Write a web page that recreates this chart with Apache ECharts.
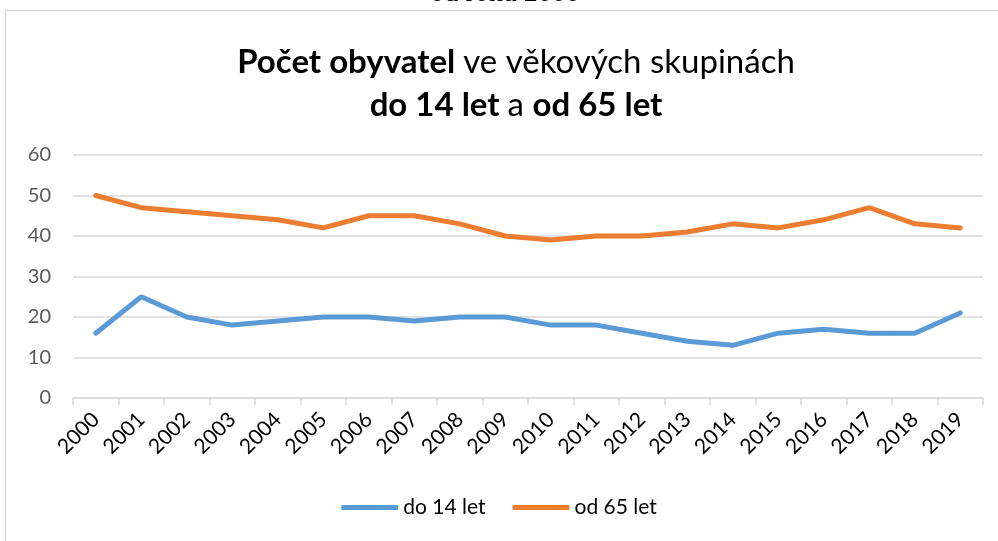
<!DOCTYPE html>
<html>
<head>
<meta charset="utf-8">
<script src="https://cdn.jsdelivr.net/npm/echarts@6/dist/echarts.min.js"></script>
<style>
  html, body { margin: 0; padding: 0; background: #fff; }
  #chart { width: 998px; height: 541px; }
</style>
</head>
<body>
<div id="chart"></div>
<script>
var years = ['2000', '2001', '2002', '2003', '2004', '2005', '2006', '2007', '2008', '2009',
    '2010', '2011', '2012', '2013', '2014', '2015', '2016', '2017', '2018', '2019'];
var do14 = [16, 25, 20, 18, 19, 20, 20, 19, 20, 20, 18, 18, 16, 14, 13, 16, 17, 16, 16, 21];
var od65 = [50, 47, 46, 45, 44, 42, 45, 45, 43, 40, 39, 40, 40, 41, 43, 42, 44, 47, 43, 42];
var seriesNames = ['do 14 let', 'od 65 let'];

var font = 'Lato, "Open Sans", sans-serif';
var titleRich = {
    b: { fontFamily: font, fontWeight: 'bold', fontSize: 33, fill: '#000' },
    n: { fontFamily: font, fontWeight: 'normal', fontSize: 33, fill: '#000' }
};
var chart = echarts.init(document.getElementById('chart'));

var option = {
    backgroundColor: '#fff',
    animation: false,
    graphic: [
        {
            type: 'rect',
            shape: { x: 5.5, y: 10.5, width: 1100, height: 600 },
            style: { fill: 'none', stroke: '#d9d9d9', lineWidth: 1.5 }
        },
        {
            type: 'text',
            x: 505,
            y: 8,
            style: {
                text: 'od roku 2000', fontSize: 28, fontFamily: '"Liberation Serif", serif',
                fill: '#000', align: 'center', verticalAlign: 'bottom'
            }
        },
        {
            type: 'text',
            x: 516,
            y: 62,
            style: { text: '{b|Počet obyvatel }{n|ve věkových skupinách}', rich: titleRich, align: 'center', verticalAlign: 'middle' }
        },
        {
            type: 'text',
            x: 516,
            y: 105,
            style: { text: '{b|do 14 let }{n|a }{b|od 65 let}', rich: titleRich, align: 'center', verticalAlign: 'middle' }
        }
    ],
    legend: {
        bottom: 18,
        left: 'center',
        itemWidth: 57,
        itemHeight: 5,
        itemGap: 27,
        icon: 'roundRect',
        textStyle: { fontFamily: font, fontSize: 21, color: '#000' },
        data: seriesNames
    },
    grid: { left: 73, right: 15, top: 155, bottom: 143, containLabel: false },
    xAxis: {
        type: 'category',
        data: years,
        boundaryGap: true,
        axisLine: { lineStyle: { color: '#d9d9d9', width: 1.5 } },
        axisTick: { show: true, length: 7, lineStyle: { color: '#d9d9d9', width: 1.5 } },
        axisLabel: { rotate: 45, fontFamily: font, fontSize: 21, color: '#000', margin: 18 }
    },
    yAxis: {
        type: 'value',
        min: 0,
        max: 60,
        interval: 10,
        axisLine: { show: false },
        axisTick: { show: false },
        splitLine: { lineStyle: { color: '#d9d9d9', width: 1.5 } },
        axisLabel: { fontFamily: font, fontSize: 20, color: '#595959', margin: 22 }
    },
    series: [
        {
            name: seriesNames[0],
            type: 'line',
            data: do14,
            symbol: 'none',
            lineStyle: { color: '#5b9bd5', width: 5, cap: 'round' },
            itemStyle: { color: '#5b9bd5' }
        },
        {
            name: seriesNames[1],
            type: 'line',
            data: od65,
            symbol: 'none',
            lineStyle: { color: '#ed7d31', width: 5, cap: 'round' },
            itemStyle: { color: '#ed7d31' }
        }
    ]
};
chart.setOption(option);
</script>
</body>
</html>
